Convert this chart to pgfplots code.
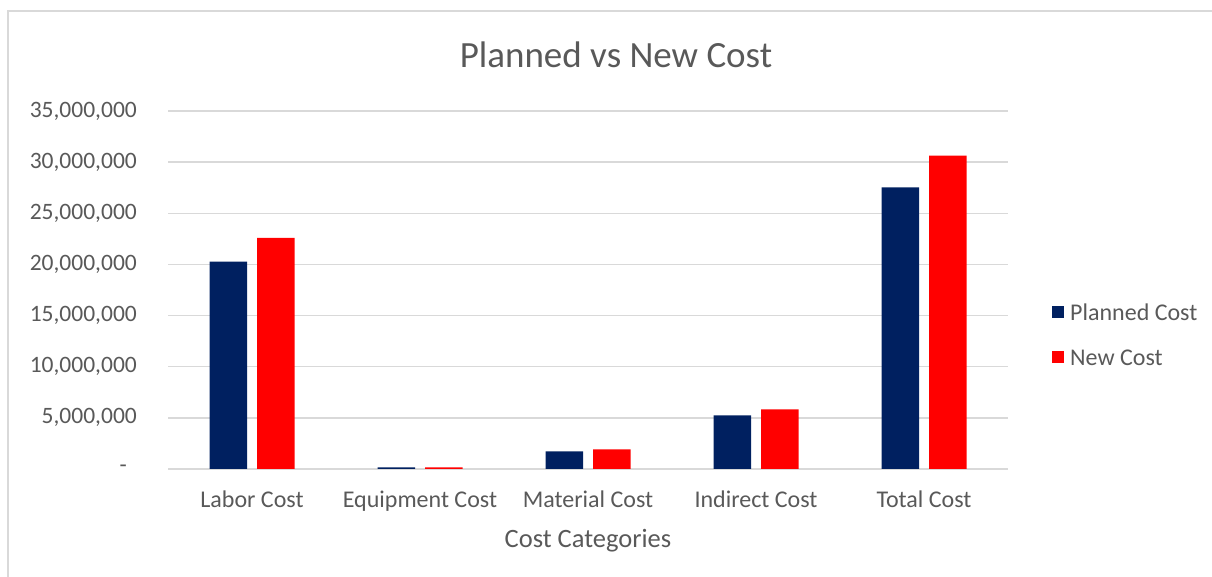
\documentclass[border=0pt]{standalone}
\usepackage{pgfplots}
\pgfplotsset{compat=1.18}
\usepackage{fontspec}
\setmainfont{Carlito}
\definecolor{navy}{HTML}{002060}
\definecolor{myred}{HTML}{FF0000}
\definecolor{txt}{HTML}{595959}
\definecolor{gridc}{HTML}{D9D9D9}
\begin{document}
\begin{tikzpicture}[x=1bp,y=1bp]
\useasboundingbox (0,0) rectangle (1212,577);
\draw[gridc, line width=1.5bp] (8,-5) -- (8,566) -- (1220,566);
\node[anchor=base, text=txt, font=\fontsize{37bp}{44bp}\selectfont] at (616,509) {Planned vs New Cost};
\begin{axis}[
  at={(168bp,108bp)}, anchor=south west,
  width=840bp, height=358bp, scale only axis,
  xmin=-0.5, xmax=4.5, ymin=0, ymax=35000000,
  scaled y ticks=false,
  axis line style={draw=none},
  major tick length=0pt,
  ymajorgrids, grid style={gridc, line width=1.5bp},
  ytick={0,5000000,10000000,15000000,20000000,25000000,30000000,35000000},
  yticklabels={{\raisebox{-3bp}{-}\kern10bp},{5,000,000},{10,000,000},{15,000,000},{20,000,000},{25,000,000},{30,000,000},{35,000,000}},
  yticklabel style={anchor=east, inner sep=0pt, xshift=-31bp, text=txt, font=\fontsize{23.5bp}{28bp}\selectfont},
  xtick={0,1,2,3,4},
  xticklabels={Labor Cost, Equipment Cost, Material Cost, Indirect Cost, Total Cost},
  xticklabel style={anchor=north, inner sep=0pt, yshift=-22bp, text=txt, font=\fontsize{24bp}{28bp}\selectfont},
  xlabel={Cost Categories},
  xlabel style={at={(axis description cs:0.5,0)}, anchor=center, yshift=-72bp, text=txt, font=\fontsize{26.5bp}{30bp}\selectfont},
  ybar=10bp, bar width=37.5bp,
  legend style={draw=none, fill=none, at={(1.0524,0.464)}, anchor=north west,
    font=\fontsize{24bp}{28bp}\selectfont, text=txt, inner sep=0pt,
    nodes={inner sep=0pt, text height=17bp, text depth=5bp},
    row sep=23bp, column sep=6bp},
  legend cell align=left,
  legend image code/.code={\fill[#1] (0bp,-4bp) rectangle (12bp,8bp);},
]
\addplot[fill=navy, draw=none] coordinates {(0,20270000) (1,160000) (2,1720000) (3,5240000) (4,27520000)};
\addplot[fill=myred, draw=none] coordinates {(0,22600000) (1,160000) (2,1930000) (3,5830000) (4,30640000)};
\legend{Planned Cost, New Cost}
\end{axis}
\end{tikzpicture}
\end{document}
